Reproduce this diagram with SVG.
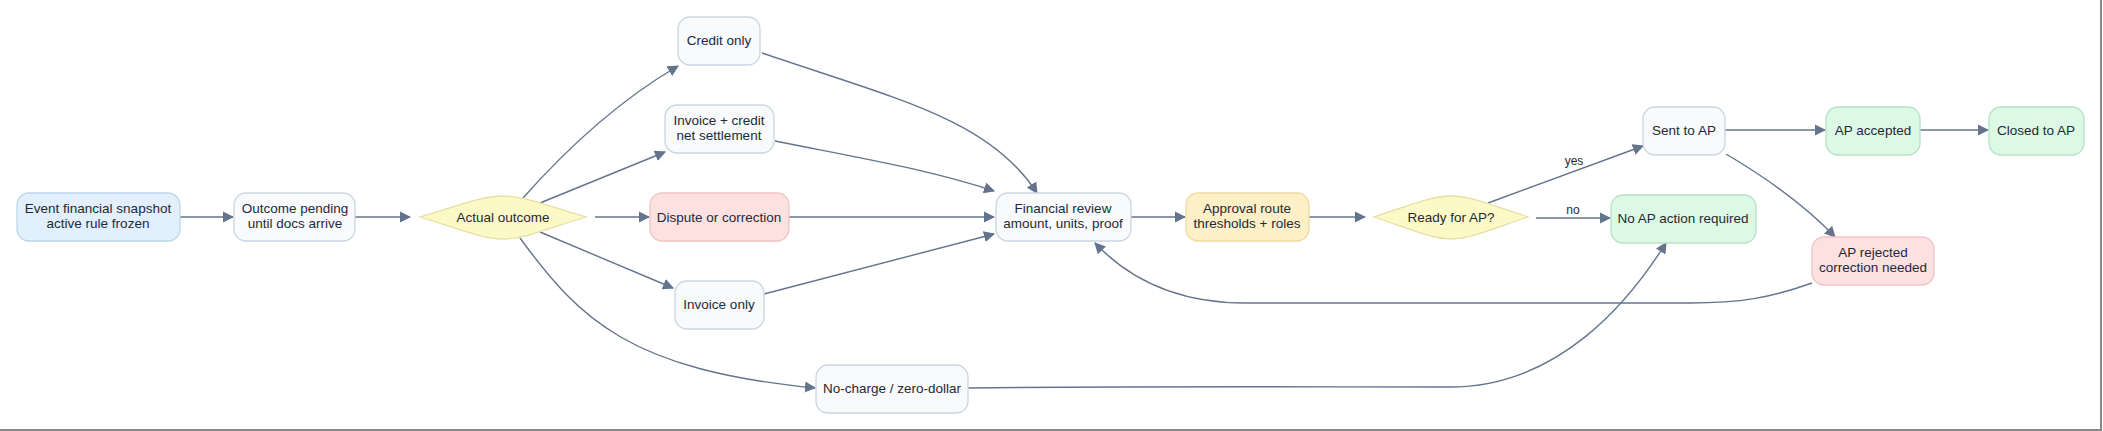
<svg xmlns="http://www.w3.org/2000/svg" width="2103" height="431" viewBox="0 0 2103 431">
<style>
text{font-family:"Liberation Sans",Arial,sans-serif;font-size:13.5px;fill:#1f2937;text-anchor:middle}
.n{stroke-width:1.3}
.w{fill:#f8fafc;stroke:#cbd5e1}
.b{fill:#e2effc;stroke:#bfd6ea}
.y{fill:#fdf9c6;stroke:#e6dfa3}
.r{fill:#fde1e1;stroke:#efc4c4}
.o{fill:#fdefc6;stroke:#eedba4}
.g{fill:#dcf9e5;stroke:#b6e2c5}
.e path{fill:none;stroke:#64748b;stroke-width:1.4}
.l{font-size:12px}
</style>
<defs><marker id="a" viewBox="0 0 10 10" refX="9" refY="5" markerWidth="8" markerHeight="8" orient="auto"><path d="M0,0L10,5L0,10z" fill="#64748b"/></marker></defs>
<rect width="2103" height="431" fill="#fff"/>
<path d="M0,430H2101V0" fill="none" stroke="#888" stroke-width="2"/>
<g class="e">
<path d="M180,217H233" marker-end="url(#a)"/>
<path d="M355,217H410" marker-end="url(#a)"/>
<path d="M523,198C570,145 620,100 678,66" marker-end="url(#a)"/>
<path d="M540,203L665,152" marker-end="url(#a)"/>
<path d="M595,217H649" marker-end="url(#a)"/>
<path d="M540,232L673,288" marker-end="url(#a)"/>
<path d="M520,238C580,320 630,370 815,388" marker-end="url(#a)"/>
<path d="M762,53C900,100 990,120 1037,193" marker-end="url(#a)"/>
<path d="M775,141C870,160 930,170 994,191" marker-end="url(#a)"/>
<path d="M789,217H994" marker-end="url(#a)"/>
<path d="M764,294L994,234" marker-end="url(#a)"/>
<path d="M968,388C1150,386 1300,387 1450,387C1560,387 1630,300 1666,243" marker-end="url(#a)"/>
<path d="M1131,217H1185" marker-end="url(#a)"/>
<path d="M1309,217H1365" marker-end="url(#a)"/>
<path d="M1488,203L1643,146" marker-end="url(#a)"/>
<path d="M1536,218H1610" marker-end="url(#a)"/>
<path d="M1725,130H1825" marker-end="url(#a)"/>
<path d="M1920,130H1988" marker-end="url(#a)"/>
<path d="M1726,154C1770,180 1805,205 1835,237" marker-end="url(#a)"/>
<path d="M1812,283C1770,298 1740,303 1690,303H1245C1180,303 1130,280 1095,243" marker-end="url(#a)"/>
</g>
<text class="l" x="1574" y="165">yes</text>
<text class="l" x="1573" y="214">no</text>
<g id="n1"><rect class="n b" x="17" y="193" width="163" height="48" rx="12"/><text x="98" y="213">Event financial snapshot</text><text x="98" y="228">active rule frozen</text></g>
<g id="n2"><rect class="n w" x="234" y="193" width="121" height="48" rx="12"/><text x="295" y="213">Outcome pending</text><text x="295" y="228">until docs arrive</text></g>
<g id="n3"><path class="n y" d="M420,217C460,205 482,196 503,196C524,196 546,205 586,217C546,229 524,239 503,239C482,239 460,229 420,217Z"/><text x="503" y="222">Actual outcome</text></g>
<g id="n4"><rect class="n w" x="678" y="17" width="82" height="48" rx="12"/><text x="719" y="45">Credit only</text></g>
<g id="n5"><rect class="n w" x="665" y="105" width="109" height="48" rx="12"/><text x="719" y="125">Invoice + credit</text><text x="719" y="140">net settlement</text></g>
<g id="n6"><rect class="n r" x="650" y="193" width="139" height="48" rx="12"/><text x="719" y="222">Dispute or correction</text></g>
<g id="n7"><rect class="n w" x="675" y="281" width="89" height="48" rx="12"/><text x="719" y="309">Invoice only</text></g>
<g id="n8"><rect class="n w" x="816" y="365" width="152" height="48" rx="12"/><text x="892" y="393">No-charge / zero-dollar</text></g>
<g id="n9"><rect class="n w" x="996" y="193" width="135" height="48" rx="12"/><text x="1063" y="213">Financial review</text><text x="1063" y="228">amount, units, proof</text></g>
<g id="n10"><rect class="n o" x="1186" y="193" width="123" height="48" rx="12"/><text x="1247" y="213">Approval route</text><text x="1247" y="228">thresholds + roles</text></g>
<g id="n11"><path class="n y" d="M1374,217C1410,205 1432,196 1451,196C1470,196 1492,205 1528,217C1492,229 1470,239 1451,239C1432,239 1410,229 1374,217Z"/><text x="1451" y="222">Ready for AP?</text></g>
<g id="n12"><rect class="n w" x="1643" y="107" width="82" height="48" rx="12"/><text x="1684" y="135">Sent to AP</text></g>
<g id="n13"><rect class="n g" x="1826" y="107" width="94" height="48" rx="12"/><text x="1873" y="135">AP accepted</text></g>
<g id="n14"><rect class="n g" x="1989" y="107" width="95" height="48" rx="12"/><text x="2036" y="135">Closed to AP</text></g>
<g id="n15"><rect class="n g" x="1611" y="195" width="145" height="48" rx="12"/><text x="1683" y="223">No AP action required</text></g>
<g id="n16"><rect class="n r" x="1812" y="237" width="122" height="48" rx="12"/><text x="1873" y="257">AP rejected</text><text x="1873" y="272">correction needed</text></g>
</svg>
